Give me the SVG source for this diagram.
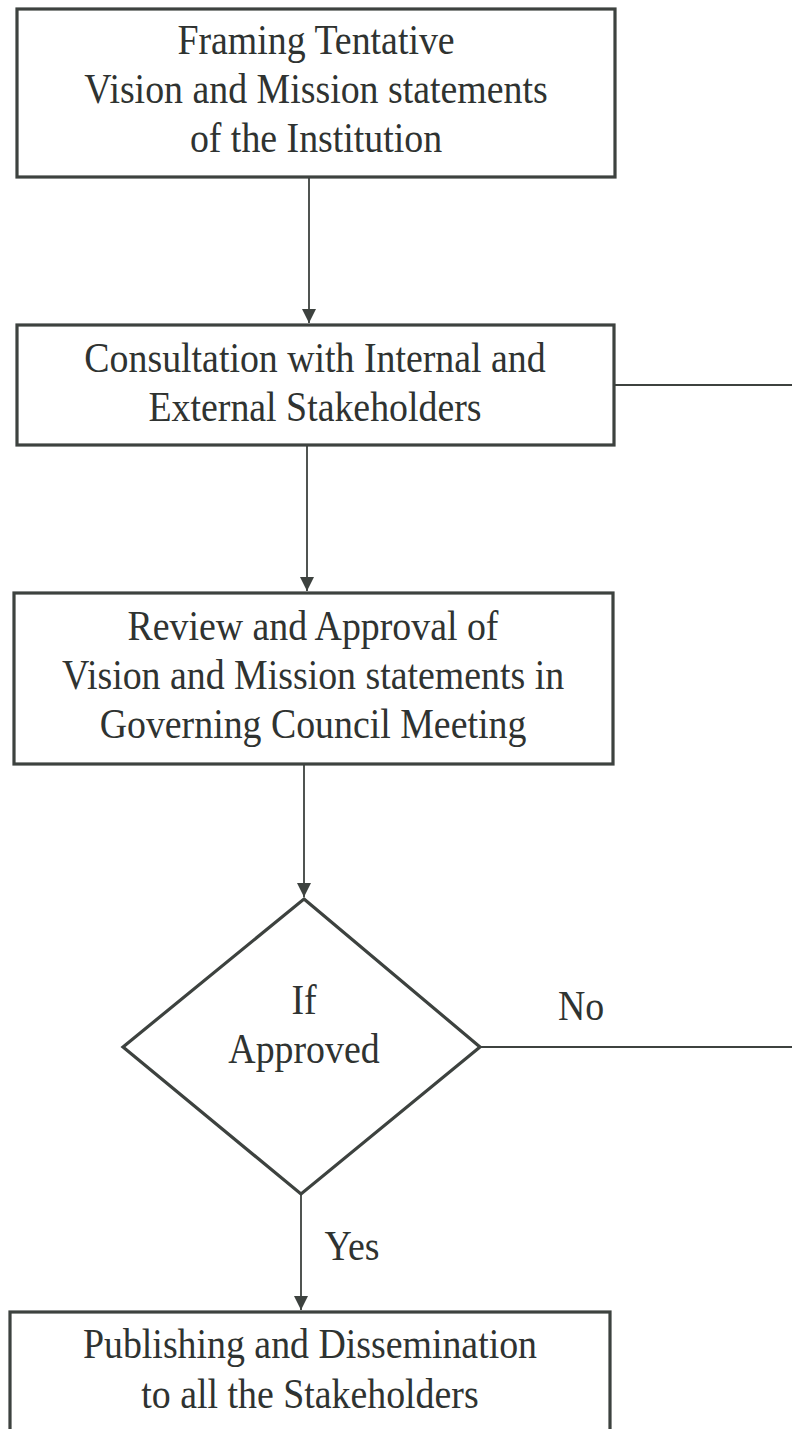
<svg xmlns="http://www.w3.org/2000/svg" width="792" height="1429" viewBox="0 0 792 1429">
<style>
.box{fill:#fff;stroke:#3d423f;stroke-width:3.2}
.ln{fill:none;stroke:#3d423f;stroke-width:1.8}
.t{font-family:"Liberation Serif","Times New Roman",serif;font-size:43px;fill:#2f3331;text-anchor:middle}
</style>
<defs>
<marker id="ah" markerWidth="14" markerHeight="20" refX="14" refY="7" orient="auto" markerUnits="userSpaceOnUse">
<path d="M0,0 L14,7 L0,14 Z" fill="#3d423f"/>
</marker>
</defs>
<rect width="792" height="1429" fill="#fff"/>
<g id="connectors">
<line class="ln" x1="309" y1="178" x2="309" y2="323" marker-end="url(#ah)"/>
<line class="ln" x1="615" y1="385" x2="792" y2="385"/>
<line class="ln" x1="307" y1="446" x2="307" y2="591" marker-end="url(#ah)"/>
<line class="ln" x1="304" y1="765" x2="304" y2="897" marker-end="url(#ah)"/>
<line class="ln" x1="480" y1="1047" x2="792" y2="1047"/>
<text class="t" transform="translate(581,1020) scale(0.88,1)">No</text>
<line class="ln" x1="301" y1="1194" x2="301" y2="1310" marker-end="url(#ah)"/>
<text class="t" transform="translate(352,1260) scale(0.88,1)">Yes</text>
</g>
<g id="n1">
<rect class="box" x="17" y="9" width="598" height="168"/>
<text class="t" transform="translate(316,54) scale(0.88,1)">Framing Tentative</text>
<text class="t" transform="translate(316,103) scale(0.88,1)">Vision and Mission statements</text>
<text class="t" transform="translate(316,152) scale(0.88,1)">of the Institution</text>
</g>
<g id="n2">
<rect class="box" x="17" y="325" width="597" height="120"/>
<text class="t" transform="translate(315,372) scale(0.88,1)">Consultation with Internal and</text>
<text class="t" transform="translate(315,421) scale(0.88,1)">External Stakeholders</text>
</g>
<g id="n3">
<rect class="box" x="14" y="593" width="599" height="171"/>
<text class="t" transform="translate(313,640) scale(0.88,1)">Review and Approval of</text>
<text class="t" transform="translate(313,689) scale(0.88,1)">Vision and Mission statements in</text>
<text class="t" transform="translate(313,738) scale(0.88,1)">Governing Council Meeting</text>
</g>
<g id="n4">
<polygon class="box" points="304,899 480,1047 301,1194 123,1047"/>
<text class="t" transform="translate(304,1014) scale(0.88,1)">If</text>
<text class="t" transform="translate(304,1063) scale(0.88,1)">Approved</text>
</g>
<g id="n5">
<rect class="box" x="10" y="1312" width="600" height="140"/>
<text class="t" transform="translate(310,1358) scale(0.88,1)">Publishing and Dissemination</text>
<text class="t" transform="translate(310,1408) scale(0.88,1)">to all the Stakeholders</text>
</g>
</svg>
